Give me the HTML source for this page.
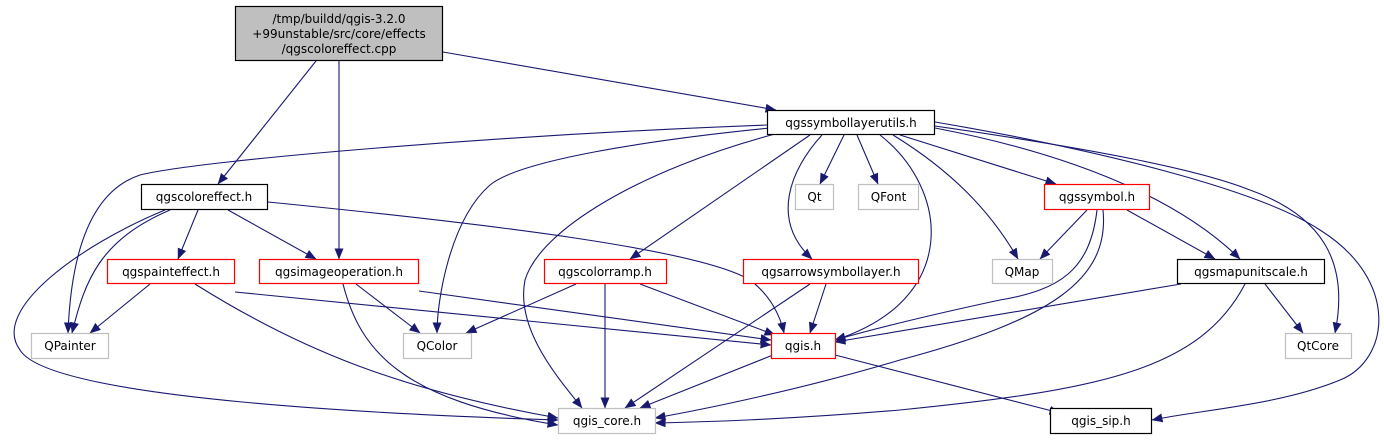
<!DOCTYPE html>
<html><head><meta charset="utf-8"><style>
html,body{margin:0;padding:0;background:#fff;}
svg text{font-family:"DejaVu Sans","Liberation Sans",sans-serif;font-size:12px;fill:#000;}
</style></head><body>
<svg width="1384" height="440" viewBox="0 0 1384 440" xmlns="http://www.w3.org/2000/svg">
<defs>
<marker id="a" markerWidth="11" markerHeight="9" refX="10.5" refY="4.5" orient="auto" markerUnits="userSpaceOnUse">
<path d="M0,0 L11,4.5 L0,9 Z" fill="#191970"/>
</marker>
</defs>
<g fill="none" stroke="#191970" stroke-width="1.1" marker-end="url(#a)">
<path d="M316,61 L218,184"/>
<path d="M339,61 L339,259"/>
<path d="M443,52 L776,110"/>
<path d="M767,125 C500,135 200,160 140,175 C80,195 70,280 68,333"/>
<path d="M770,128 C650,140 520,160 490,185 C450,220 437,300 437,333"/>
<path d="M775,134 C640,170 540,230 525,280 C515,330 560,380 582,408"/>
<path d="M810,135 L630,259"/>
<path d="M822,135 C790,170 770,220 812,259"/>
<path d="M844,135 L820,184"/>
<path d="M857,135 L878,184"/>
<path d="M880,135 C950,190 960,300 835,340"/>
<path d="M893,135 C950,170 990,210 1018,259"/>
<path d="M900,135 L1056,184"/>
<path d="M935,128 C1050,150 1170,190 1240,259"/>
<path d="M935,126 C1100,150 1200,170 1250,190 C1320,215 1350,260 1335,333"/>
<path d="M935,122 C1100,150 1260,190 1320,230 C1400,280 1390,360 1340,380 C1280,405 1200,410 1152,420"/>
<path d="M170,210 C100,240 85,280 72,333"/>
<path d="M165,210 C80,245 -10,310 20,350 C50,400 400,415 558,420"/>
<path d="M198,210 L178,259"/>
<path d="M228,210 L316,259"/>
<path d="M268,202 C500,225 700,250 750,280 C770,295 780,315 784,333"/>
<path d="M150,284 L90,333"/>
<path d="M195,284 C300,350 400,390 558,418"/>
<path d="M235,292 L771,345"/>
<path d="M343,284 C360,350 400,400 558,425"/>
<path d="M356,284 L420,333"/>
<path d="M419,291 L771,340"/>
<path d="M576,284 L466,333"/>
<path d="M605,284 L605,408"/>
<path d="M640,284 L775,335"/>
<path d="M810,284 L625,408"/>
<path d="M826,284 L810,333"/>
<path d="M773,355 L640,408"/>
<path d="M835,355 L1060,413"/>
<path d="M1087,210 L1040,259"/>
<path d="M1097,210 C1090,270 1060,290 1000,300 C930,315 870,330 835,340"/>
<path d="M1103,210 C1110,280 1050,320 900,360 C800,390 700,410 655,418"/>
<path d="M1127,210 L1215,259"/>
<path d="M1181,284 L835,342"/>
<path d="M1245,284 C1200,370 1100,390 900,410 C780,420 700,422 655,423"/>
<path d="M1265,284 L1303,333"/>
</g>
<g stroke-width="1.2">
<rect x="235.5" y="6.5" width="207" height="54" fill="#bfbfbf" stroke="#000"/>
<rect x="767.5" y="110.5" width="167" height="24" fill="#fff" stroke="#000"/>
<rect x="141.5" y="184.5" width="126" height="25" fill="#fff" stroke="#000"/>
<rect x="107.5" y="259.5" width="127" height="24" fill="#fff" stroke="#f00"/>
<rect x="259.5" y="259.5" width="159" height="24" fill="#fff" stroke="#f00"/>
<rect x="544.5" y="259.5" width="122" height="24" fill="#fff" stroke="#f00"/>
<rect x="743.5" y="259.5" width="175" height="24" fill="#fff" stroke="#f00"/>
<rect x="795.5" y="184.5" width="38" height="25" fill="#fff" stroke="#bfbfbf"/>
<rect x="858.5" y="184.5" width="60" height="25" fill="#fff" stroke="#bfbfbf"/>
<rect x="1044.5" y="184.5" width="105" height="25" fill="#fff" stroke="#f00"/>
<rect x="992.5" y="259.5" width="60" height="24" fill="#fff" stroke="#bfbfbf"/>
<rect x="1177.5" y="259.5" width="147" height="24" fill="#fff" stroke="#000"/>
<rect x="31.5" y="333.5" width="77" height="25" fill="#fff" stroke="#bfbfbf"/>
<rect x="403.5" y="333.5" width="68" height="25" fill="#fff" stroke="#bfbfbf"/>
<rect x="771.5" y="333.5" width="64" height="25" fill="#fff" stroke="#f00"/>
<rect x="1285.5" y="333.5" width="66" height="25" fill="#fff" stroke="#bfbfbf"/>
<rect x="558.5" y="408.5" width="97" height="25" fill="#fff" stroke="#bfbfbf"/>
<rect x="1050.5" y="408.5" width="101" height="25" fill="#fff" stroke="#000"/>
</g>
<g text-anchor="middle">
<text x="339" y="23">/tmp/buildd/qgis-3.2.0</text>
<text x="339" y="38">+99unstable/src/core/effects</text>
<text x="339" y="53">/qgscoloreffect.cpp</text>
<text x="851" y="127">qgssymbollayerutils.h</text>
<text x="204" y="201">qgscoloreffect.h</text>
<text x="171" y="276">qgspainteffect.h</text>
<text x="339" y="276">qgsimageoperation.h</text>
<text x="605" y="276">qgscolorramp.h</text>
<text x="831" y="276">qgsarrowsymbollayer.h</text>
<text x="814.5" y="201">Qt</text>
<text x="888.5" y="201">QFont</text>
<text x="1097" y="201">qgssymbol.h</text>
<text x="1022" y="276">QMap</text>
<text x="1251" y="276">qgsmapunitscale.h</text>
<text x="70" y="350">QPainter</text>
<text x="437" y="350">QColor</text>
<text x="803" y="350">qgis.h</text>
<text x="1318" y="350">QtCore</text>
<text x="607" y="425">qgis_core.h</text>
<text x="1101" y="425">qgis_sip.h</text>
</g>
</svg>
</body></html>
